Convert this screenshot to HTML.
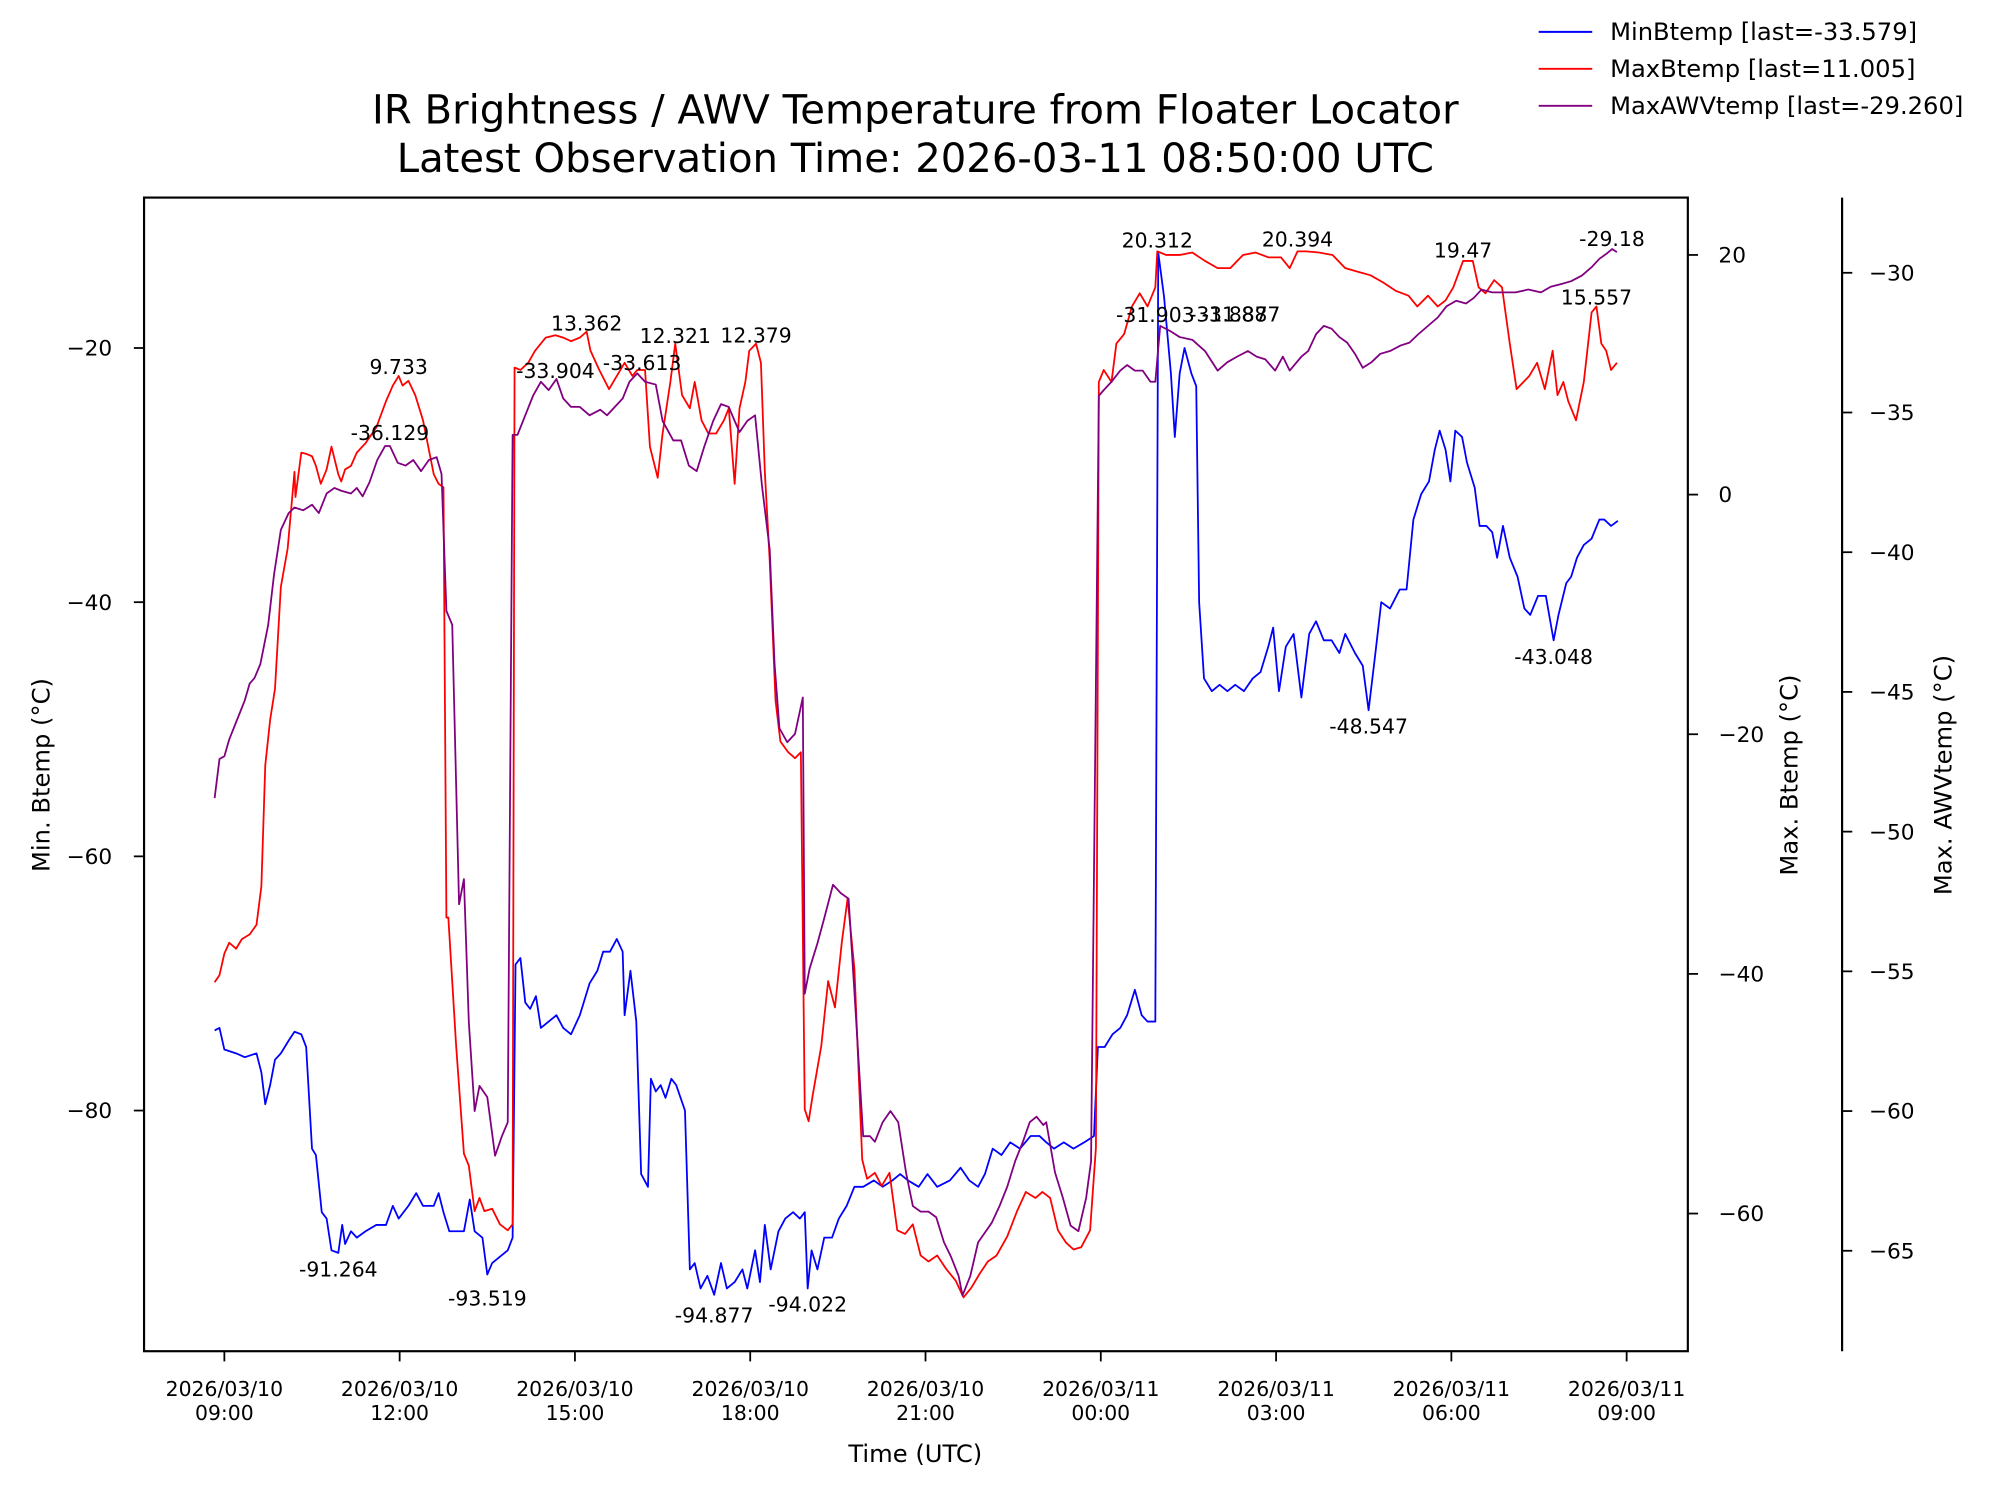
<!DOCTYPE html>
<html><head><meta charset="utf-8"><style>
html,body{margin:0;padding:0;background:#fff;}
svg{display:block;font-family:"DejaVu Sans","Liberation Sans",sans-serif;}
</style></head><body>
<svg id="chart" width="1998" height="1495" viewBox="0 0 1567.3 1172.8" preserveAspectRatio="none" xmlns="http://www.w3.org/2000/svg">
<g id="title">
<text x="718" y="97" font-size="31.5" text-anchor="middle">IR Brightness / AWV Temperature from Floater Locator</text>
<text x="718" y="135" font-size="31.5" text-anchor="middle">Latest Observation Time: 2026-03-11 08:50:00 UTC</text>
</g>
<g id="legend">
<g><line x1="1207" y1="25" x2="1249" y2="25" stroke="blue" stroke-width="1.5"/><text x="1263" y="31.5" font-size="19">MinBtemp [last=-33.579]</text></g>
<g><line x1="1207" y1="54" x2="1249" y2="54" stroke="red" stroke-width="1.5"/><text x="1263" y="60.5" font-size="19">MaxBtemp [last=11.005]</text></g>
<g><line x1="1207" y1="83" x2="1249" y2="83" stroke="purple" stroke-width="1.5"/><text x="1263" y="89.5" font-size="19">MaxAWVtemp [last=-29.260]</text></g>
</g>
<g id="plot"></g>
</svg>
<script>
// ---- data (time = minutes since 2026/03/10 09:00 UTC) ----
const xTickLabels = ["2026/03/10|09:00","2026/03/10|12:00","2026/03/10|15:00","2026/03/10|18:00","2026/03/10|21:00","2026/03/11|00:00","2026/03/11|03:00","2026/03/11|06:00","2026/03/11|09:00"];
const xTickMinutes = [0,180,360,540,720,900,1080,1260,1440];
const leftTicks = [-20,-40,-60,-80];
const right1Ticks = [20,0,-20,-40,-60];
const right2Ticks = [-30,-35,-40,-45,-50,-55,-60,-65];

const minTimes = [-10,-5,0,12,21,33,38,42,47,52,58,66,72,79,84,90,94,100,105,110,117,121,124,130,136,145,156,166,173,179,189,197,204,215,220,225,231,238,246,252,257,265,270,275,283,291,296,299,304,309,314,320,325,333,341,348,356,365,375,383,389,396,403,409,411,417,423,428,435,438,443,448,453,459,464,473,478,483,489,496,503,510,516,524,532,537,545,550,555,561,569,576,584,591,596,599,603,609,616,624,631,639,647,656,667,676,686,694,702,713,722,732,745,756,765,774,781,789,798,807,817,828,837,844,852,862,872,883,893,897,904,912,920,927,935,942,948,956,959,965,972,976,981,986,993,998,1001,1006,1014,1022,1030,1038,1047,1056,1064,1072,1077,1083,1090,1098,1106,1114,1121,1129,1137,1145,1151,1161,1169,1175,1182,1188,1197,1207,1214,1221,1229,1237,1243,1248,1254,1259,1264,1271,1276,1284,1289,1296,1302,1307,1313,1320,1328,1335,1341,1349,1357,1365,1370,1378,1383,1389,1396,1404,1412,1417,1424,1431];
const minValues = [-73.7,-73.5,-75.2,-75.5,-75.8,-75.5,-77,-79.5,-78,-76,-75.5,-74.5,-73.8,-74,-75,-83,-83.5,-88,-88.5,-91,-91.2,-89,-90.5,-89.5,-90,-89.5,-89,-89,-87.5,-88.5,-87.5,-86.5,-87.5,-87.5,-86.5,-88,-89.5,-89.5,-89.5,-87,-89.5,-90,-92.9,-92,-91.5,-91,-90,-68.5,-68,-71.5,-72,-71,-73.5,-73,-72.5,-73.5,-74,-72.5,-70,-69,-67.5,-67.5,-66.5,-67.5,-72.5,-69,-73,-85,-86,-77.5,-78.5,-78,-79,-77.5,-78,-80,-92.5,-92,-94,-93,-94.5,-92,-94,-93.5,-92.5,-94,-91,-93.5,-89,-92.5,-89.5,-88.5,-88,-88.5,-88,-94,-91,-92.5,-90,-90,-88.5,-87.5,-86,-86,-85.5,-86,-85.5,-85,-85.5,-86,-85,-86,-85.5,-84.5,-85.5,-86,-85,-83,-83.5,-82.5,-83,-82,-82,-82.5,-83,-82.5,-83,-82.5,-82,-75,-75,-74,-73.5,-72.5,-70.5,-72.5,-73,-73,-12.5,-16,-22,-27,-22,-20,-22,-23,-40,-46,-47,-46.5,-47,-46.5,-47,-46,-45.5,-43.5,-42,-47,-43.5,-42.5,-47.5,-42.5,-41.5,-43,-43,-44,-42.5,-44,-45,-48.5,-44,-40,-40.5,-39,-39,-33.5,-31.5,-30.5,-28,-26.5,-28,-30.5,-26.5,-27,-29,-31,-34,-34,-34.5,-36.5,-34,-36.5,-38,-40.5,-41,-39.5,-39.5,-43,-41,-38.5,-38,-36.5,-35.5,-35,-33.5,-33.5,-34,-33.6];

const maxTimes = [-10,-5,0,5,12,18,26,33,38,42,47,52,58,65,72,73,79,84,90,94,99,105,110,117,120,124,130,136,145,156,166,173,179,183,189,196,204,215,220,225,228,230,238,246,251,257,262,267,275,283,291,296,298,304,312,319,330,340,348,356,365,372,376,385,395,403,411,419,424,432,437,445,450,458,463,470,478,483,490,497,505,513,518,524,529,535,539,546,551,555,560,566,571,579,586,592,596,600,604,613,620,627,634,640,647,655,660,668,675,683,691,699,707,715,723,732,741,751,759,767,775,784,793,804,814,823,833,840,848,856,864,872,880,889,895,898,903,911,916,924,932,940,948,956,958,967,981,994,1007,1020,1033,1046,1059,1072,1085,1094,1102,1111,1124,1138,1151,1164,1177,1190,1203,1216,1225,1236,1246,1254,1262,1272,1282,1288,1295,1304,1312,1320,1327,1334,1340,1348,1356,1364,1369,1375,1380,1388,1396,1404,1409,1414,1419,1424,1430];
const maxValues = [-40.7,-40.1,-38.3,-37.4,-37.9,-37.1,-36.7,-35.9,-32.7,-22.6,-18.8,-16.2,-7.7,-4.5,1.9,-0.2,3.5,3.4,3.2,2.4,0.9,2.1,4,1.7,1.1,2.1,2.4,3.5,4.3,5.6,7.8,9.1,9.9,9.1,9.5,8.3,6.2,1.7,0.9,0.6,-35.3,-35.3,-46,-55,-56,-59.8,-58.7,-59.8,-59.6,-60.9,-61.4,-60.9,10.6,10.4,11,12,13.1,13.3,13.1,12.8,13.1,13.6,12,10.4,8.8,9.9,11,9.9,10.4,10.4,4,1.4,5.1,9.4,12.6,8.3,7.2,9.4,6.2,5.1,5.1,6.2,7.2,0.9,7.2,9.4,12,12.6,11,1.9,-5.5,-17.2,-20.6,-21.5,-22,-21.5,-51.3,-52.3,-50.2,-46,-40.6,-42.8,-37.4,-33.7,-39.6,-55.5,-57.1,-56.6,-57.7,-56.6,-61.4,-61.7,-60.9,-63.5,-64,-63.5,-64.6,-65.6,-67,-66.2,-65.1,-64,-63.5,-61.9,-59.8,-58.2,-58.7,-58.2,-58.7,-61.4,-62.4,-63,-62.8,-61.4,-54.5,9.4,10.4,9.4,12.6,13.4,15.7,16.8,15.7,17.3,20.3,20,20,20.2,19.5,18.9,18.9,20,20.2,19.8,19.8,18.9,20.3,20.3,20.2,20,18.9,18.6,18.3,17.7,17,16.6,15.7,16.6,15.7,16.2,17.3,19.5,19.5,17.3,16.8,17.9,17.3,12.6,8.8,9.4,9.9,11,8.8,12,8.3,9.4,7.8,6.2,9.4,15.2,15.7,12.6,12,10.4,11];

const awvTimes = [-10,-5,0,5,13,21,26,31,37,45,51,58,66,72,81,90,97,105,113,120,130,136,142,149,157,165,170,178,186,194,202,210,218,223,228,234,241,246,251,257,262,270,278,285,291,296,301,309,317,325,333,341,348,356,365,375,386,393,401,409,416,424,432,443,450,461,469,477,485,493,502,510,518,524,529,537,545,552,560,565,570,578,586,594,596,601,609,616,625,633,641,648,656,663,668,676,684,692,700,707,715,723,731,739,746,754,758,766,774,782,788,796,804,812,820,827,834,841,844,853,861,869,877,885,890,
898,903,911,920,927,935,943,951,956,961,972,981,994,1007,1020,1030,1040,1051,1060,1069,1079,1087,1094,1106,1113,1121,1129,1137,1145,1153,1161,1169,1178,1187,1197,1208,1217,1226,1236,1246,1255,1265,1275,1283,1291,1302,1313,1326,1339,1352,1362,1373,1383,1394,1404,1412,1420,1425,1430];
const awvValues = [-48.8,-47.4,-47.3,-46.7,-46,-45.3,-44.7,-44.5,-44,-42.6,-40.8,-39.2,-38.6,-38.4,-38.5,-38.3,-38.6,-37.9,-37.7,-37.8,-37.9,-37.7,-38,-37.5,-36.7,-36.2,-36.2,-36.8,-36.9,-36.7,-37.1,-36.7,-36.6,-37.2,-42.1,-42.6,-52.6,-51.7,-56.8,-60,-59.1,-59.5,-61.6,-60.9,-60.4,-35.8,-35.8,-35.1,-34.4,-33.9,-34.2,-33.8,-34.5,-34.8,-34.8,-35.1,-34.9,-35.1,-34.8,-34.5,-33.9,-33.6,-33.9,-34,-35.3,-36,-36,-36.9,-37.1,-36.2,-35.3,-34.7,-34.8,-35.3,-35.7,-35.3,-35.1,-37.6,-39.9,-44,-46.3,-46.8,-46.5,-45.2,-55.8,-54.9,-54,-53.1,-51.9,-52.2,-52.4,-56.3,-60.9,-60.9,-61.1,-60.4,-60,-60.4,-62.2,-63.4,-63.6,-63.6,-63.8,-64.7,-65.2,-65.9,-66.6,-65.9,-64.7,-64.3,-64,-63.4,-62.7,-61.8,-61.1,-60.4,-60.2,-60.5,-60.4,-62.2,-63.1,-64.1,-64.3,-63.1,-61.8,
-34.4,-34.2,-33.9,-33.5,-33.3,-33.5,-33.5,-33.9,-33.9,-31.9,-32.1,-32.3,-32.4,-32.8,-33.5,-33.2,-33,-32.8,-33,-33.1,-33.5,-33,-33.5,-33,-32.8,-32.2,-31.9,-32,-32.3,-32.5,-32.9,-33.4,-33.2,-32.9,-32.8,-32.6,-32.5,-32.2,-31.9,-31.6,-31.2,-31,-31.1,-30.9,-30.6,-30.7,-30.7,-30.7,-30.6,-30.7,-30.5,-30.4,-30.3,-30.1,-29.8,-29.5,-29.3,-29.15,-29.26];

// annotations: [time, value]
const minAnn = [[117,-91.264],[270,-93.519],[503,-94.877],[599,-94.022],[1175,-48.547],[1365,-43.048]];
const maxAnn = [[179,9.733],[372,13.362],[463,12.321],[546,12.379],[958,20.312],[1102,20.394],[1272,19.47],[1409,15.557]];
const awvAnn = [[170,-36.129],[340,-33.904],[429,-33.613],[956,-31.903],[1031,-31.887],[1044,-31.887],[1425,-29.18]];

// ---- axes ----
const L=113,R=1324,T=155,B=1060;
const xS = m => 176 + m*(1100/1440);
const yL = v => 273 + (-20 - v)*9.97;
const yR1 = v => 388 - v*9.4;
const yR2 = v => 214 + (-30 - v)*21.92;
const NS="http://www.w3.org/2000/svg";
const plot=document.getElementById('plot');
function mk(tag,attrs,parent){const e=document.createElementNS(NS,tag);for(const k in attrs)e.setAttribute(k,attrs[k]);(parent||plot).appendChild(e);return e;}
function fmtTick(v){return (v<0?"\u2212":"")+Math.abs(v);}

function drawLine(times,vals,yf,color,name){
  let d="";
  const n=Math.min(times.length,vals.length);
  for(let i=0;i<n;i++){d+=(i?"L":"M")+xS(times[i]).toFixed(2)+","+yf(vals[i]).toFixed(2);}
  const p=mk('path',{d:d,fill:"none",stroke:color,"stroke-width":"1.4","stroke-linejoin":"round"});
  
  
}
drawLine(minTimes,minValues,yL,"blue","minbtemp-line");
drawLine(maxTimes,maxValues,yR1,"red","maxbtemp-line");
drawLine(awvTimes,awvValues,yR2,"purple","maxawvtemp-line");

function ann(list,yf,dy,name){
  list.forEach(a=>{
    const t=mk('text',{x:xS(a[0]).toFixed(1),y:(yf(a[1])+dy).toFixed(1),"font-size":"16","text-anchor":"middle"});
    t.textContent=String(a[1]);
    
    
  });
}
ann(minAnn,yL,18,"min-annotation");
ann(maxAnn,yR1,-3,"max-annotation");
ann(awvAnn,yR2,-3,"awv-annotation");

const fr=mk('rect',{x:L,y:T,width:R-L,height:B-T,fill:"none",stroke:"#000","stroke-width":"1.7"});


const sp2=mk('line',{x1:1445,y1:T,x2:1445,y2:B,stroke:"#000","stroke-width":"1.7"});



xTickMinutes.forEach((m,i)=>{
  const x=xS(m);
  const tk=mk('line',{x1:x,y1:B,x2:x,y2:B+8,stroke:"#000","stroke-width":"1.4"});
  
  
  const parts=xTickLabels[i].split("|");
  const t=mk('text',{x:x,y:B+35,"font-size":"16","text-anchor":"middle"});
  
  
  const s1=mk('tspan',{x:x},t);s1.textContent=parts[0];
  const s2=mk('tspan',{x:x,dy:"19"},t);s2.textContent=parts[1];
});
leftTicks.forEach(v=>{
  const y=yL(v);
  const tk=mk('line',{x1:L-8,y1:y,x2:L,y2:y,stroke:"#000","stroke-width":"1.4"});
  
  
  const t=mk('text',{x:L-25,y:y+6,"font-size":"17","text-anchor":"end"});
  t.textContent=fmtTick(v);
  
  
});
right1Ticks.forEach(v=>{
  const y=yR1(v);
  const tk=mk('line',{x1:R,y1:y,x2:R+8,y2:y,stroke:"#000","stroke-width":"1.4"});
  
  
  const t=mk('text',{x:R+24,y:y+6,"font-size":"17"});
  t.textContent=fmtTick(v);
  
  
});
right2Ticks.forEach(v=>{
  const y=yR2(v);
  const tk=mk('line',{x1:1445,y1:y,x2:1453,y2:y,stroke:"#000","stroke-width":"1.4"});
  
  
  const t=mk('text',{x:1466,y:y+6,"font-size":"17"});
  t.textContent=fmtTick(v);
  
  
});
function title(txt,x,y,rot,name){
  const t=mk('text',{x:x,y:y,"font-size":"19","text-anchor":"middle",transform:rot?`rotate(-90 ${x} ${y})`:""});
  t.textContent=txt;
  
  
}
title("Time (UTC)",718,1147,false,"x-axis-title");
title("Min. Btemp (\u00B0C)",39,608,true,"left-y-axis-title");
title("Max. Btemp (\u00B0C)",1410,608,true,"maxbtemp-axis-title");
title("Max. AWVtemp (\u00B0C)",1531,608,true,"awv-axis-title");
</script>
</body></html>
